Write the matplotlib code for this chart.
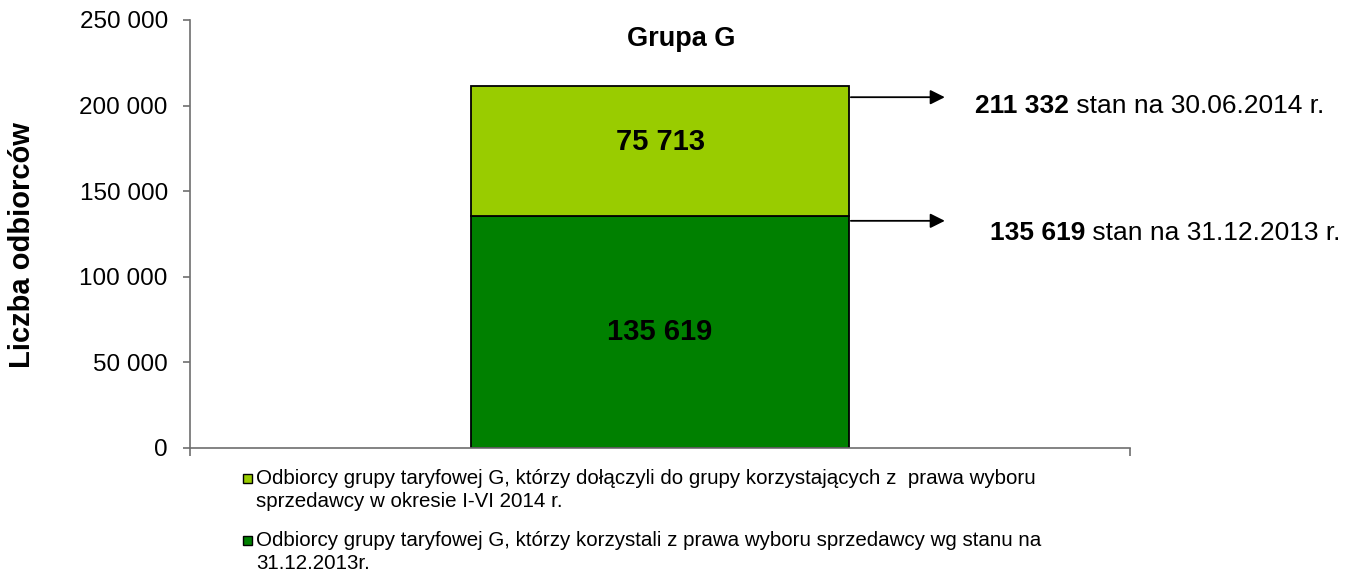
import matplotlib
matplotlib.use('Agg')
import matplotlib.pyplot as plt
from matplotlib import font_manager
from matplotlib.patches import Rectangle
from matplotlib.ticker import FuncFormatter, FixedLocator
from matplotlib.transforms import offset_copy

# data
base_value = 135619          # stan na 31.12.2013
added_value = 75713          # dołączyli w I-VI 2014
total_value = base_value + added_value
dates = ['30.06.2014 r.', '31.12.2013 r.']
legend_labels = [
    'Odbiorcy grupy taryfowej G, którzy dołączyli do grupy korzystających z  prawa wyboru\nsprzedawcy w okresie I-VI 2014 r.',
    'Odbiorcy grupy taryfowej G, którzy korzystali z prawa wyboru sprzedawcy wg stanu na\n31.12.2013r.',
]
y_ticks = [0, 50000, 100000, 150000, 200000, 250000]

light_green = '#99CC00'
dark_green = '#008000'

plt.rcParams['font.family'] = ['Liberation Sans', 'DejaVu Sans']
names = {f.name for f in font_manager.fontManager.ttflist}
narrow = 'Liberation Sans Narrow' if 'Liberation Sans Narrow' in names else 'Liberation Sans'

W, H = 1362, 574
fig = plt.figure(figsize=(W / 100, H / 100), dpi=100)
ax = fig.add_axes([190 / W, 1 - 448 / H, 940 / W, 428 / H])


def fmt(v, pos=None):
    return f'{int(v):,}'.replace(',', ' ')


ax.bar(0, base_value, width=0.402, color=dark_green, edgecolor='black', linewidth=1.3)
ax.bar(0, added_value, bottom=base_value, width=0.402, color=light_green,
       edgecolor='black', linewidth=1.3)

ax.text(0, base_value / 2, fmt(base_value), ha='center', va='center',
        fontsize=21, fontweight='bold')
ax.text(0, base_value + added_value / 2 + 5500, fmt(added_value), ha='center', va='center',
        fontsize=21, fontweight='bold')

ax.set_xlim(-0.5, 0.5)
ax.set_ylim(0, 250000)
ax.yaxis.set_major_locator(FixedLocator(y_ticks))
ax.yaxis.set_major_formatter(FuncFormatter(fmt))
ax.set_xticks([-0.5, 0.5])
ax.set_xticklabels([])
for s in ['top', 'right']:
    ax.spines[s].set_visible(False)
for s in ['left', 'bottom']:
    ax.spines[s].set_color('#6e6e6e')
    ax.spines[s].set_linewidth(1.2)
ax.tick_params(axis='y', direction='out', length=5, width=1.2, color='#6e6e6e',
               labelsize=17.5, pad=11)
ax.tick_params(axis='x', direction='out', length=6, width=1.2, color='#6e6e6e')

fig.text(22 / W, 1 - 245 / H, 'Liczba odbiorców', rotation=90, ha='center', va='center',
         fontsize=21, fontweight='bold')
fig.text(681 / W, 1 - 39 / H, 'Grupa G', ha='center', va='center',
         fontsize=19.5, fontweight='bold')

# arrows with totals
for value, date, arrow_dy, text_dx, text_dy in [(total_value, dates[0], 11, 30, 9),
                                                (base_value, dates[1], 5, 45, 12)]:
    tr = offset_copy(ax.transData, fig=fig, y=-arrow_dy, units='dots')
    ax.annotate('', xy=(0.303, value), xytext=(0.203, value), xycoords=tr, textcoords=tr,
                arrowprops=dict(arrowstyle='-|>', color='black', lw=1.3,
                                mutation_scale=22, shrinkA=0, shrinkB=0))
    tr_t = offset_copy(ax.transData, fig=fig, x=text_dx, y=-arrow_dy - text_dy, units='dots')
    t1 = ax.text(0.303, value, fmt(value), transform=tr_t, ha='left', va='center',
                 fontsize=19, fontweight='bold')
    ax.annotate(' stan na ' + date, xy=(1, 0), xycoords=t1, ha='left', va='bottom',
                fontsize=19)

# legend
for i, (label, col) in enumerate(zip(legend_labels, [light_green, dark_green])):
    ytop = 478 + i * 62
    fig.patches.append(Rectangle((243 / W, 1 - (ytop + 5) / H), 9 / W, 9 / H,
                                 transform=fig.transFigure, facecolor=col,
                                 edgecolor='black', linewidth=1))
    fig.text(256 / W, 1 - (ytop - 9) / H, label, ha='left', va='top',
             fontsize=14.8, family=narrow, linespacing=1.27)

fig.savefig('out.png', dpi=100)
